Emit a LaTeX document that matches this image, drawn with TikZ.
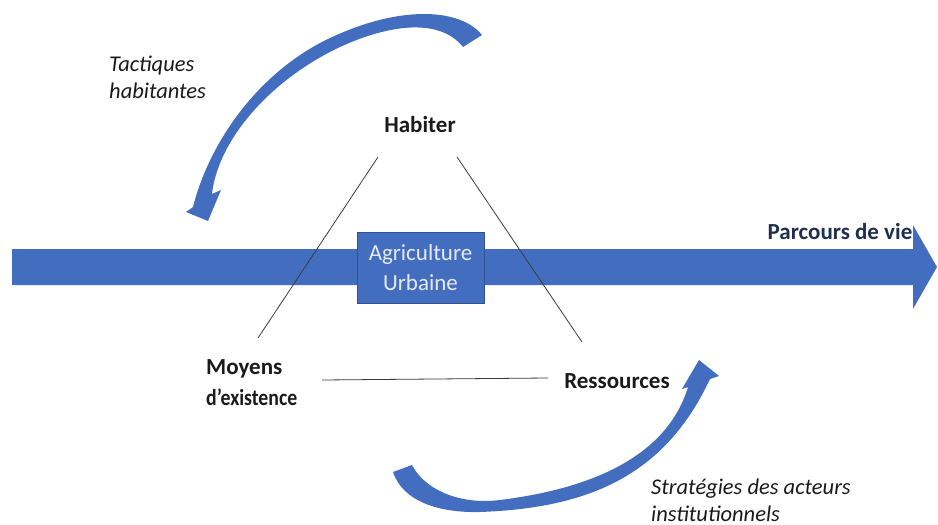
\documentclass[tikz,border=0pt]{standalone}
\usepackage{fontspec}
\setmainfont{Carlito}
\definecolor{ablue}{HTML}{436EBF}
\definecolor{aborder}{HTML}{2F528F}
\definecolor{navy}{HTML}{1F2F4F}
\definecolor{boxtext}{HTML}{E6E9F2}
\definecolor{ink}{HTML}{1A1A1A}
\definecolor{linec}{HTML}{3A3A3A}
\begin{document}
\begin{tikzpicture}[x=1pt,y=-1pt,
  lbl/.style={font=\fontsize{23}{31}\selectfont\bfseries, text=ink, inner sep=0pt},
  itl/.style={font=\fontsize{22.5}{27}\selectfont\itshape, text=ink, inner sep=0pt, align=left},
  tri/.style={draw=linec, line width=0.8pt}]
\useasboundingbox (0,0) rectangle (938,525);
% main arrow
\fill[ablue] (12,249) -- (913,249) -- (913,225) -- (937,267) -- (913,309) -- (913,285) -- (12,285) -- cycle;
% box
\node[draw=aborder, line width=0.6pt, fill=ablue, minimum width=127pt, minimum height=71pt, inner sep=0pt,
  text=boxtext, align=center, font=\fontsize{23}{30}\selectfont] (agri) at (420.5,267.5) {Agriculture\\Urbaine};
% labels
\node[lbl] (hab) at (420,125) {Habiter};
\node[lbl, text=navy] (pdv) at (840,232) {Parcours de vie};
\node[lbl, align=left, anchor=west] (moy) at (206,383) {Moyens\\\scalebox{0.86}[1]{d’existence}};
\node[lbl] (res) at (617,381) {Ressources};
\node[itl, anchor=west] (tac) at (109,77) {Tactiques\\habitantes};
\node[itl, anchor=west] (str) at (651,500) {Stratégies des acteurs\\institutionnels};
% triangle lines
\coordinate (hl) at (378,157);
\coordinate (hr) at (457,157);
\coordinate (ml) at (258,338);
\coordinate (rr) at (582,342);
\coordinate (mr) at (322,380);
\coordinate (rl) at (548,378);
\draw[tri] (hl) -- (ml);
\draw[tri] (hr) -- (rr);
\draw[tri] (mr) -- (rl);
% curved arrow 1 (top-left)
\fill[ablue] (482,35) .. controls (460,8) and (400,5) .. (330,38)
  .. controls (260,71) and (210,140) .. (193,207)
  -- (186,212) -- (208,221) -- (221,190) -- (212,194)
  .. controls (218,140) and (270,80) .. (340,47)
  .. controls (390,24) and (440,18) .. (463,47) -- cycle;
% curved arrow 2 (bottom)
\fill[ablue] (393,472) .. controls (403,502) and (440,513) .. (480,512)
  .. controls (590,508) and (665,475) .. (710,379)
  -- (719,376) -- (699,360) -- (682,389) -- (688,387)
  .. controls (672,440) and (620,485) .. (500,500)
  .. controls (460,505) and (425,490) .. (412,465) -- cycle;
\end{tikzpicture}
\end{document}
